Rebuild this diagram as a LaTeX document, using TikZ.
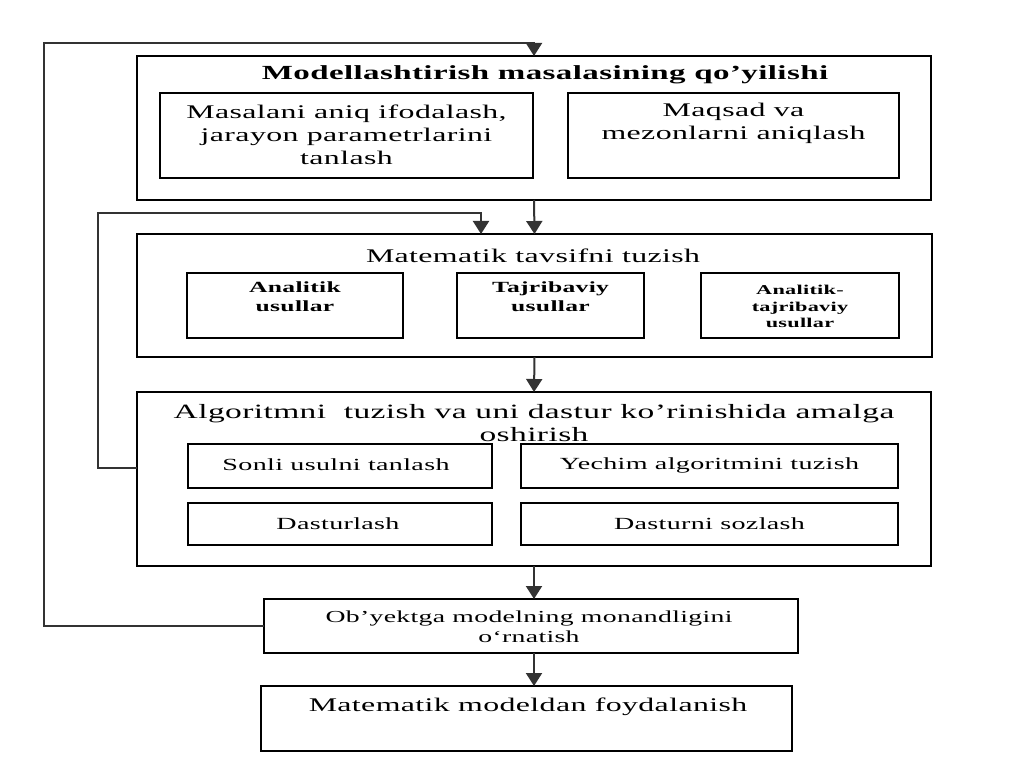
\documentclass[tikz,border=0pt]{standalone}
\usepackage{fontspec}
\setmainfont{Liberation Serif}[FakeStretch=1.65,LetterSpace=2]
\usetikzlibrary{arrows.meta}
\newcommand\fA{\fontsize{19.3}{23}\selectfont}
\newcommand\fB{\fontsize{17}{19}\selectfont}
\newcommand\fBb{\bfseries\fontsize{15.5}{19}\selectfont}
\newcommand\fC{\bfseries\fontsize{13.5}{16.5}\selectfont}
\newcommand\fD{\fontsize{20.3}{23}\selectfont}
\newcommand\fE{\fontsize{16.8}{20}\selectfont}
\begin{document}
\begin{tikzpicture}[x=1pt,y=-1pt,
  box/.style={draw, line width=2pt, inner sep=0pt, outer sep=0pt},
  tx/.style={align=center, inner sep=0pt},
  conn/.style={line width=2pt, draw=black!80},
  arr/.style={conn, -{Triangle[width=16pt,length=13pt]}}]
\useasboundingbox[fill=white] (0,0) rectangle (1024,767);

% block 1
\node[box, minimum width=794pt, minimum height=144pt] (m1) at (534,128) {};
\node[tx, font=\bfseries\fontsize{20}{22}\selectfont] (t1) at (545,75) {Modellashtirish masalasining qo’yilishi};
\node[box, minimum width=373pt, minimum height=85pt] (a1) at (346.5,135.5) {};
\node[tx, font=\fA] (a1t) at (346.5,135) {Masalani aniq ifodalash,\\jarayon parametrlarini\\tanlash};
\node[box, minimum width=331pt, minimum height=85pt] (b1) at (733.5,135.5) {};
\node[tx, font=\fA] (b1t) at (733.5,123.5) {Maqsad va\\mezonlarni aniqlash};

% block 2
\node[box, minimum width=795pt, minimum height=123pt] (m2) at (534.5,295.5) {};
\node[tx, font=\fA] (t2) at (533,256) {Matematik tavsifni tuzish};
\node[box, minimum width=216pt, minimum height=65pt] (a2) at (295,305.5) {};
\node[tx, font=\fBb] (a2t) at (295,297) {Analitik\\usullar};
\node[box, minimum width=187pt, minimum height=65pt] (b2) at (550.5,305.5) {};
\node[tx, font=\fBb] (b2t) at (550.5,297) {Tajribaviy\\usullar};
\node[box, minimum width=198pt, minimum height=65pt] (c2) at (800,305.5) {};
\node[tx, font=\fC] (c2t) at (800,306.5) {Analitik-\\tajribaviy\\usullar};

% block 3
\node[box, minimum width=794pt, minimum height=174pt] (m3) at (534,479) {};
\node[tx, font=\fD] (t3) at (534,423.5) {Algoritmni\ \ tuzish va uni dastur ko’rinishida amalga\\oshirish};
\node[box, minimum width=304pt, minimum height=44pt] (a3) at (340,466) {};
\node[tx, font=\fB] (a3t) at (336,465) {Sonli usulni tanlash};
\node[box, minimum width=377pt, minimum height=44pt] (b3) at (709.5,466) {};
\node[tx, font=\fB] (b3t) at (709.5,465) {Yechim algoritmini tuzish};
\node[box, minimum width=304pt, minimum height=42pt] (c3) at (340,523.5) {};
\node[tx, font=\fB] (c3t) at (338,523.5) {Dasturlash};
\node[box, minimum width=377pt, minimum height=42pt] (d3) at (709.5,523.5) {};
\node[tx, font=\fB] (d3t) at (709.5,523.5) {Dasturni sozlash};

% block 4
\node[box, minimum width=534pt, minimum height=54pt] (m4) at (531,626) {};
\node[tx, font=\fE] (m4t) at (529,627) {Ob’yektga modelning monandligini\\o‘rnatish};

% block 5
\node[box, minimum width=531pt, minimum height=65pt] (m5) at (526.5,718.5) {};
\node[tx, font=\fA] (m5t) at (528,707) {Matematik modeldan foydalanish};

% connectors
\coordinate (L1) at (44,43);
\coordinate (L2) at (98,213);
\coordinate (L2e) at (481,234);
\draw[arr] (m4.west) -| (L1) -| (m1.north);
\draw[arr] ([yshift=11pt]m3.west) -| (L2) -| (L2e);
\draw[arr] (m1.south) -- (m2.north);
\draw[arr] (m2.south) -- (m3.north);
\draw[arr] (m3.south) -- (m3.south |- m4.north);
\draw[arr] (m3.south |- m4.south) -- (m3.south |- m5.north);
\end{tikzpicture}
\end{document}
